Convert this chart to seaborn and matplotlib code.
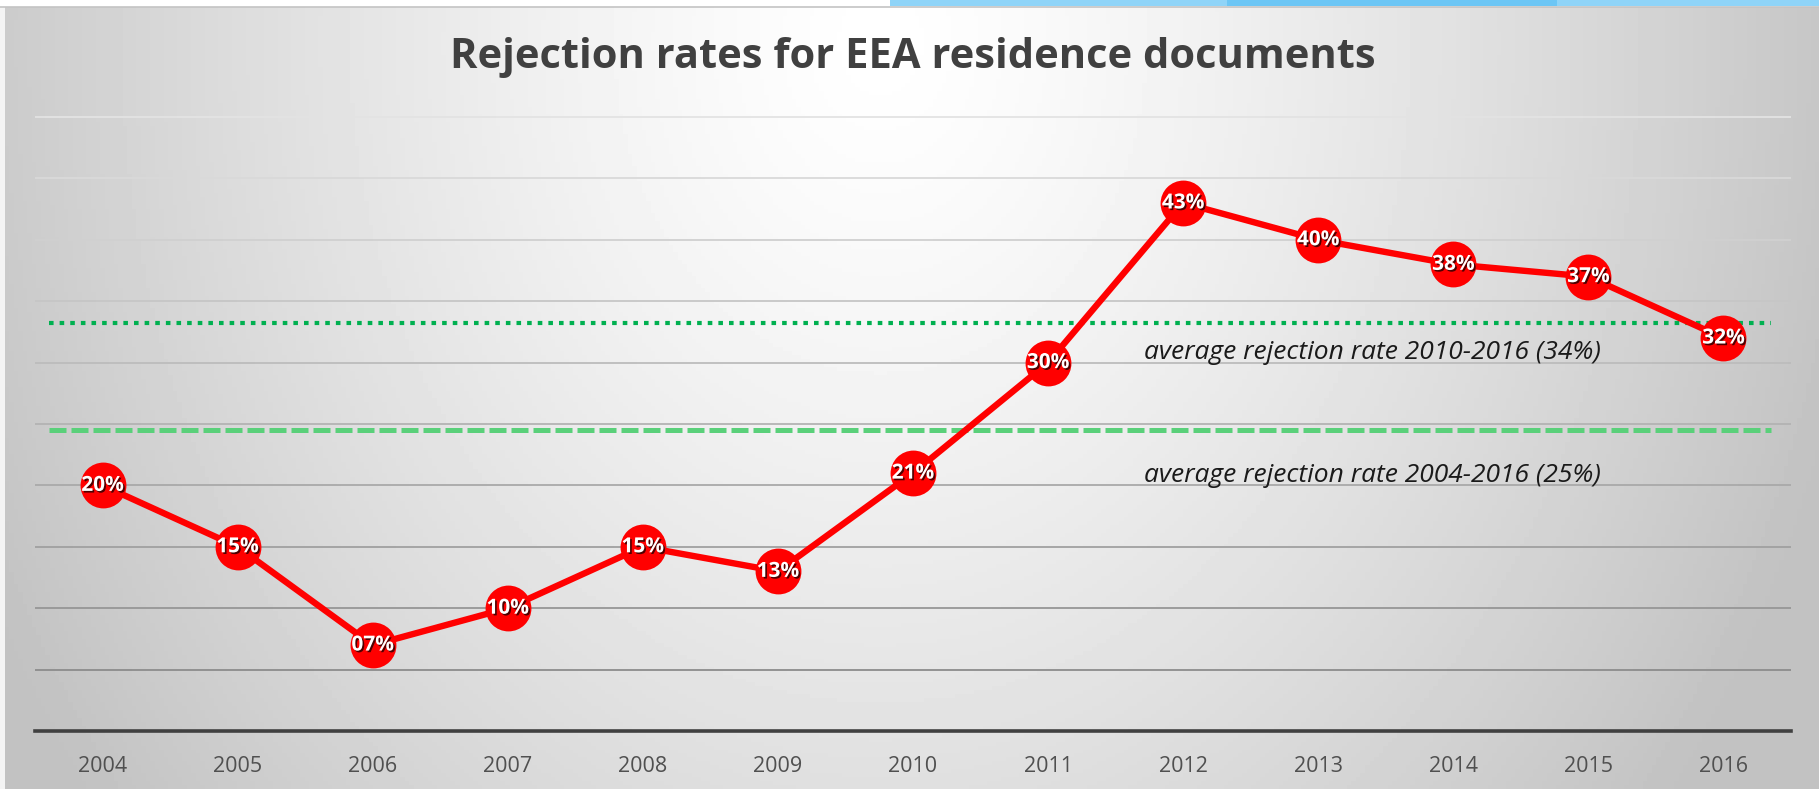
import numpy as np
import pandas as pd
import seaborn as sns
import matplotlib.pyplot as plt
import matplotlib.patheffects as pe
from matplotlib.patches import Rectangle

# data
years = [2004, 2005, 2006, 2007, 2008, 2009, 2010, 2011, 2012, 2013, 2014, 2015, 2016]
rates = [20, 15, 7, 10, 15, 13, 21, 30, 43, 40, 38, 37, 32]
rate_labels = ['20%', '15%', '07%', '10%', '15%', '13%', '21%', '30%', '43%', '40%', '38%', '37%', '32%']
avg_recent = 33.2   # 2010-2016 line as drawn
avg_all = 24.5      # 2004-2016 line as drawn
avg_recent_text = 'average rejection rate 2010-2016 (34%)'
avg_all_text = 'average rejection rate 2004-2016 (25%)'
grid_levels = [5, 10, 15, 20, 25, 30, 35, 40, 45, 50]

df = pd.DataFrame({'year': years, 'rate': rates})

sns.set_style('white')
plt.rcParams['font.family'] = ['Open Sans', 'DejaVu Sans']

W, H = 1819, 789
fig = plt.figure(figsize=(W / 100, H / 100), dpi=100)
fig.patch.set_facecolor('white')

# gradient slide background
bg = fig.add_axes([0, 0, 1, 1], zorder=-5)
xx, yy = np.meshgrid(np.linspace(0, W, 400), np.linspace(0, H, 200))
d = np.sqrt(((xx - 880) / 1000.0) ** 2 + ((yy - 40) / 1250.0) ** 2)
shade = 1 - 0.24 * np.clip(d, 0, 1) ** 1.3
bg.imshow(shade, cmap='gray', vmin=0, vmax=1, extent=[0, W, H, 0], aspect='auto')
bg.set_xlim(0, W)
bg.set_ylim(H, 0)
bg.axis('off')
# thin white frame at the left / top and blue header bar
bg.add_patch(Rectangle((0, 0), 5, H, color='#f4f4f4', lw=0))
bg.add_patch(Rectangle((0, 0), W, 7, color='#ffffff', lw=0))
bg.add_patch(Rectangle((890, 0), W - 890, 6, color='#8fd4f8', lw=0))
bg.add_patch(Rectangle((1227, 0), 330, 6, color='#6cc6f5', lw=0))
bg.plot([0, W], [7, 7], color='#c4c4c4', lw=1.2)

# main chart
ax = fig.add_axes([35 / W, 58 / H, 1756 / W, 52 * 12.28 / H])
ax.set_facecolor('none')

# gridlines, darker towards the bottom
for i, lvl in enumerate(grid_levels):
    g = 0.55 + 0.34 * i / (len(grid_levels) - 1)
    ax.axhline(lvl, color=(g, g, g), lw=1.3, zorder=1)

ax.plot([2003.6, 2016.35], [avg_recent, avg_recent], color='#00b050', lw=3.0,
        dashes=(1.1, 1.45), zorder=2)
ax.plot([2003.6, 2016.35], [avg_all, avg_all], color='#5ad07a', lw=3.6,
        dashes=(3.4, 1.0), zorder=2)

sns.lineplot(data=df, x='year', y='rate', color='#ff0000', lw=4.6, marker='o',
             markersize=33, markeredgewidth=0, ax=ax, zorder=3)

for x, y, lab in zip(years, rates, rate_labels):
    ax.text(x, y, lab, ha='center', va='center', color='white', fontsize=15,
            fontweight='bold', zorder=4,
            path_effects=[pe.SimplePatchShadow(offset=(1.2, -1.2), shadow_rgbFace='#3a0000', alpha=0.9),
                          pe.Normal()])

ax.text(2011.71, 30.8, avg_recent_text, fontsize=19, style='italic', color='#1a1a1a',
        va='center', ha='left', zorder=4)
ax.text(2011.71, 20.8, avg_all_text, fontsize=19, style='italic', color='#1a1a1a',
        va='center', ha='left', zorder=4)

ax.set_xlim(2003.5, 2016.5)
ax.set_ylim(0, 52)
ax.set_xticks(years)
ax.set_xticklabels([str(y) for y in years], fontsize=15.5, color='#505050')
ax.set_yticks([])
ax.tick_params(axis='x', length=0, pad=18)
ax.set_xlabel('')
ax.set_ylabel('')
for s in ['top', 'right', 'left']:
    ax.spines[s].set_visible(False)
ax.spines['bottom'].set_color('#404040')
ax.spines['bottom'].set_linewidth(2.6)

fig.text(0.502, 1 - 57 / H, 'Rejection rates for EEA residence documents', ha='center',
         va='center', fontsize=30, fontweight='bold', color='#404040')

fig.savefig('out.png', dpi=100)
